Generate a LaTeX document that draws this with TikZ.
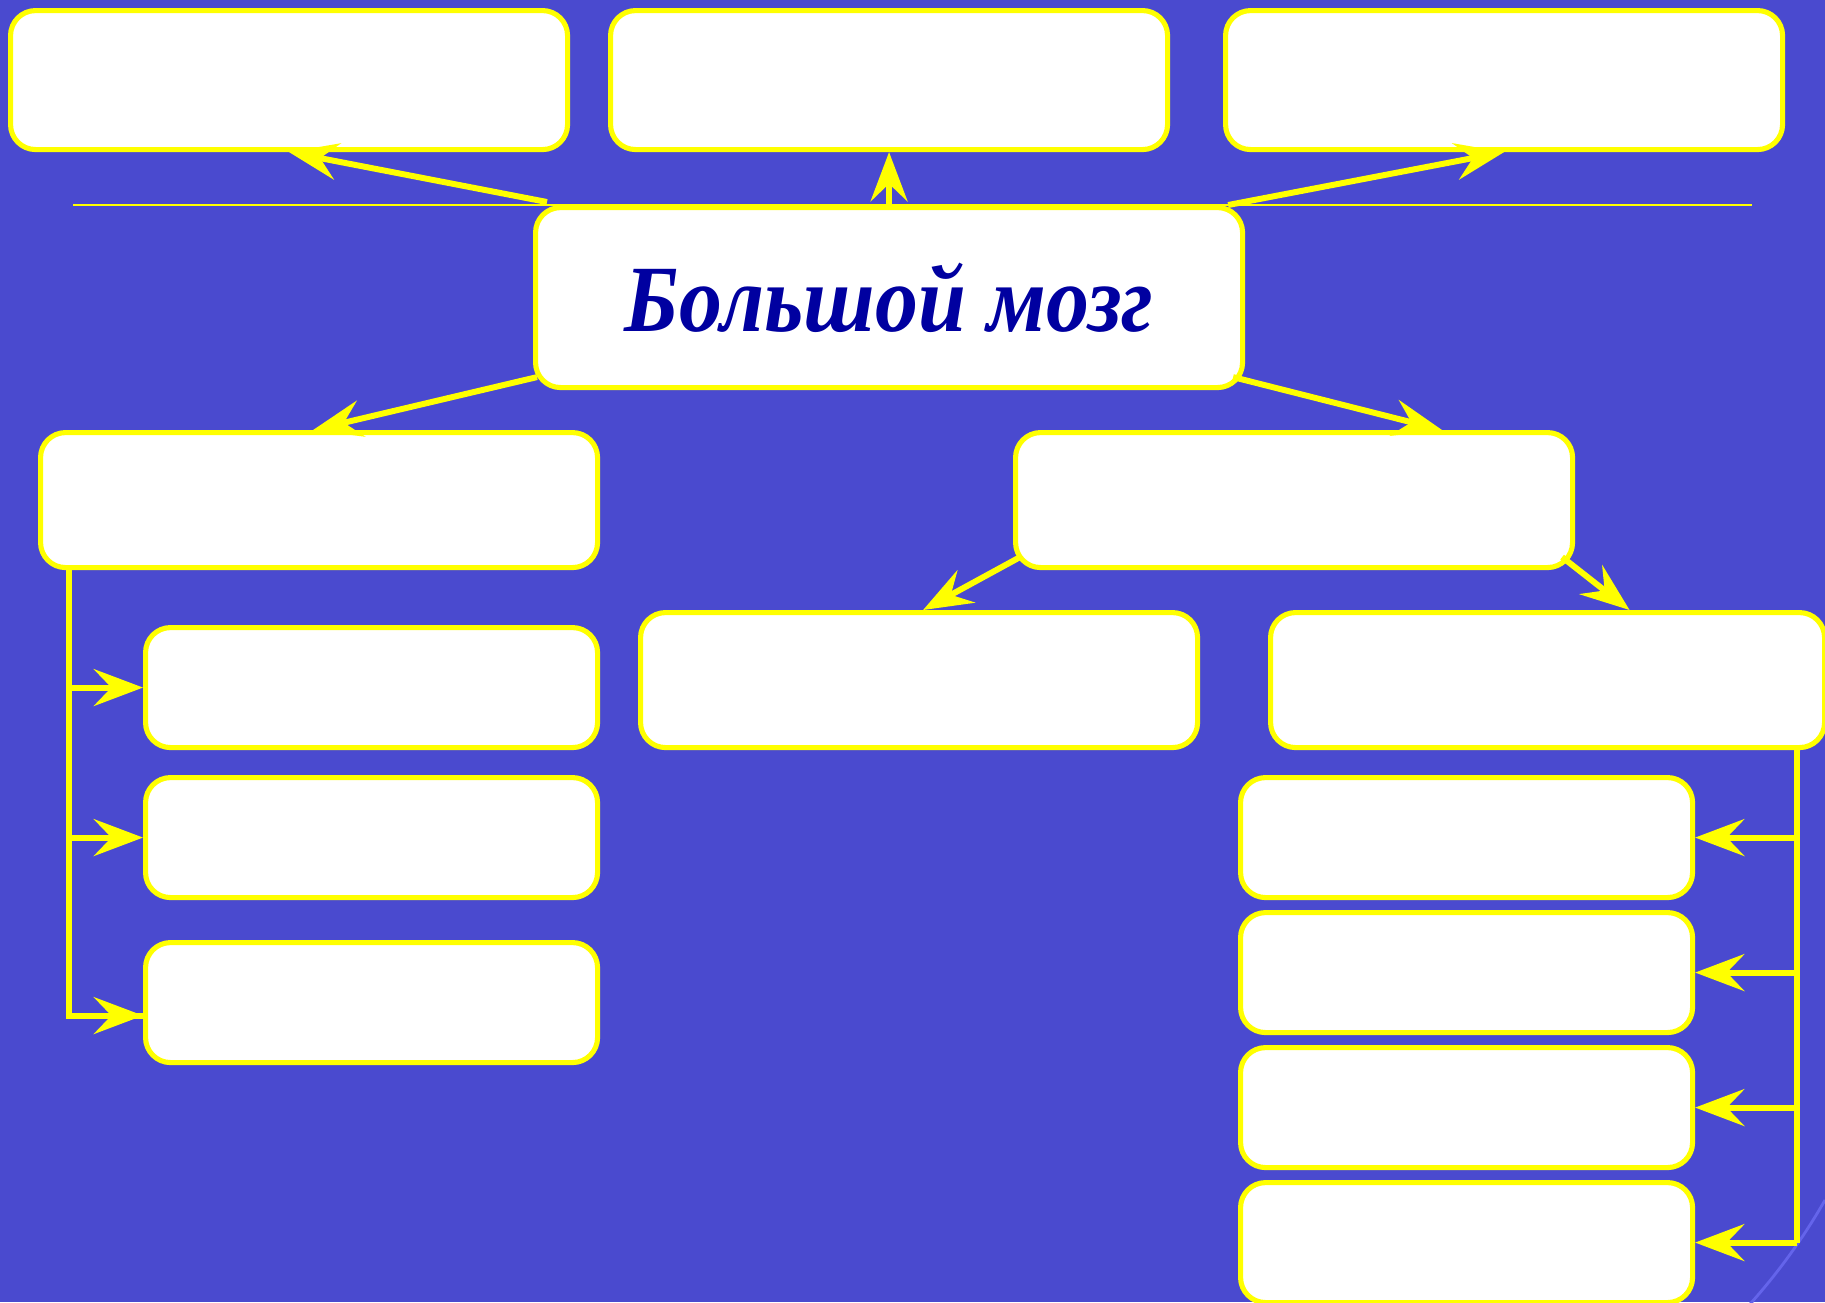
\documentclass[tikz,border=0pt]{standalone}
\usepackage{fontspec}
\setmainfont{Liberation Serif}
\usetikzlibrary{arrows.meta,calc}
\definecolor{bg}{RGB}{74,74,207}
\definecolor{ylw}{RGB}{255,255,0}
\definecolor{txt}{RGB}{0,0,160}
\definecolor{arcc}{RGB}{100,100,235}
\begin{document}
\begin{tikzpicture}[x=0.01cm,y=-0.01cm,
  box/.style={draw=ylw, line width=1.45pt, fill=white, rounded corners=0.25cm,
    inner sep=0pt, anchor=north west, minimum width=#1*0.01cm},
  box/.default=557,
  ht/.style={minimum height=#1*0.01cm},
  conn/.style={draw=ylw, line width=1.7pt,
    -{Stealth[length=14pt,width=10.5pt,inset=5pt]}},
  trunk/.style={draw=ylw, line width=1.7pt},
  thin/.style={draw=ylw, line width=0.6pt}]
\fill[bg] (0,0) rectangle (1825,1302);
\useasboundingbox (0,0) rectangle (1825,1302);
\draw[color=arcc, line width=0.8pt] (1825,1200) arc[start angle=29.7, end angle=42.5, radius=605];
% thin horizontal line
\coordinate (hl) at (73,205);
\coordinate (hr) at (1752,205);
\draw[thin] (hl) -- (hr);
% boxes
\node[box, ht=139] (T1) at (8,8) {};
\node[box, ht=139] (T2) at (608,8) {};
\node[box, ht=139] (T3) at (1223,8) {};
\node[box=707, ht=180, text=txt,
  font=\fontsize{27}{30}\selectfont\bfseries\itshape] (C) at (533,205)
  {\scalebox{0.905}[1]{Большой мозг}};
\node[box, ht=135] (L1) at (38,430) {};
\node[box, ht=135] (R1) at (1013,430) {};
\node[box, ht=135] (M) at (638,610) {};
\node[box=554, ht=135] (R2) at (1268,610) {};
\node[box=452, ht=120] (LC1) at (143,625) {};
\node[box=452, ht=120] (LC2) at (143,775) {};
\node[box=452, ht=120] (LC3) at (143,940) {};
\node[box=452, ht=120] (RC1) at (1238,775) {};
\node[box=452, ht=120] (RC2) at (1238,910) {};
\node[box=452, ht=120] (RC3) at (1238,1045) {};
\node[box=452, ht=120] (RC4) at (1238,1180) {};
% arrows from the central box
\draw[conn] ([shift={(14,-3)}]C.north west) -- (T1.south);
\draw[conn] (C.north) -- (T2.south);
\draw[conn] ([shift={(-17,0)}]C.north east) -- (T3.south);
\draw[conn] ([shift={(4,-13)}]C.south west) -- ([shift={(-6,0)}]L1.north);
\draw[conn] ([shift={(-12,-13)}]C.south east) -- ([shift={(148,0)}]R1.north);
\draw[conn] ([shift={(7,-13)}]R1.south west) -- ([shift={(4,0)}]M.north);
\draw[conn] ([shift={(-13,-13)}]R1.south east) -- ([shift={(82,0)}]R2.north);
% left bracket
\coordinate (lb) at ($(L1.south west)+(31,0)$);
\coordinate (l3) at ($(LC3.west)+(0,13)$);
\draw[trunk] (lb) -- (lb |- l3) -- (l3);
\draw[conn] (lb |- LC1.west) -- (LC1.west);
\draw[conn] (lb |- LC2.west) -- (LC2.west);
\draw[conn] (lb |- l3) -- (l3);
% right bracket
\coordinate (rb) at ($(R2.south east)+(-30,0)$);
\draw[trunk] (rb) -- (rb |- RC4.east);
\draw[conn] (rb |- RC1.east) -- (RC1.east);
\draw[conn] (rb |- RC2.east) -- (RC2.east);
\draw[conn] (rb |- RC3.east) -- (RC3.east);
\draw[conn] (rb |- RC4.east) -- (RC4.east);
\end{tikzpicture}
\end{document}
